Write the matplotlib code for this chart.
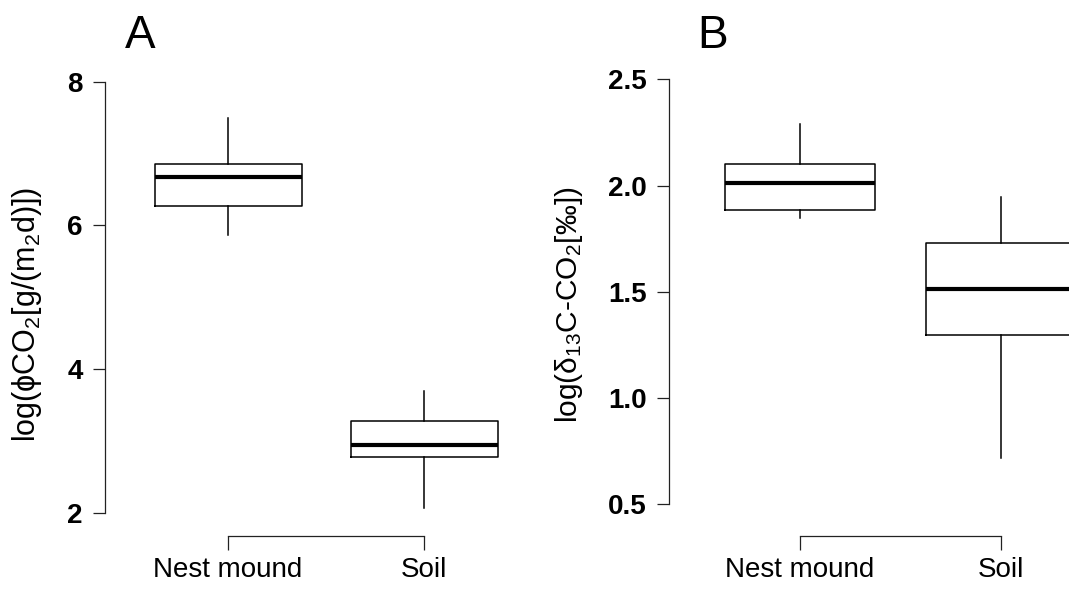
import matplotlib
matplotlib.use("Agg")
import matplotlib.pyplot as plt

plt.rcParams['font.family'] = ['Liberation Sans', 'DejaVu Sans']
plt.rcParams['mathtext.fontset'] = 'custom'
plt.rcParams['mathtext.rm'] = 'Liberation Sans'
plt.rcParams['mathtext.it'] = 'Liberation Sans:italic'
plt.rcParams['mathtext.sf'] = 'Liberation Sans'

# ---- data ----
groups = ['Nest mound', 'Soil']

a_whislo = [5.86, 2.07]
a_q1 = [6.27, 2.77]
a_med = [6.67, 2.94]
a_q3 = [6.85, 3.28]
a_whishi = [7.49, 3.69]
a_yticks = [2, 4, 6, 8]
a_yticklabels = ['2', '4', '6', '8']

b_whislo = [1.846, 0.716]
b_q1 = [1.886, 1.295]
b_med = [2.013, 1.512]
b_q3 = [2.10, 1.728]
b_whishi = [2.288, 1.946]
b_yticks = [0.5, 1.0, 1.5, 2.0, 2.5]
b_yticklabels = ['0.5', '1.0', '1.5', '2.0', '2.5']

W, H = 1069, 596
fig = plt.figure(figsize=(W / 100, H / 100), dpi=100)


def px_axes(left, right, top, bottom):
    return fig.add_axes([left / W, (H - bottom) / H, (right - left) / W, (bottom - top) / H])


def draw_panel(ax, whislo, q1, med, q3, whishi, yticks, yticklabels, xlim, ylim):
    stats = []
    for i, g in enumerate(groups):
        stats.append(dict(label=g, whislo=whislo[i], q1=q1[i], med=med[i],
                          q3=q3[i], whishi=whishi[i], fliers=[]))
    ax.bxp(stats, positions=[1, 2], widths=0.75, showfliers=False,
           boxprops=dict(color='black', linewidth=1.1),
           medianprops=dict(color='black', linewidth=3.0, solid_capstyle='butt'),
           whiskerprops=dict(color='black', linewidth=1.1),
           capprops=dict(linewidth=0), showcaps=False)
    ax.set_xlim(*xlim)
    ax.set_ylim(*ylim)
    for s in ['top', 'right']:
        ax.spines[s].set_visible(False)
    ax.spines['left'].set_bounds(yticks[0], yticks[-1])
    ax.spines['bottom'].set_bounds(1, 2)
    for s in ['left', 'bottom']:
        ax.spines[s].set_linewidth(0.9)
        ax.spines[s].set_color('#222222')
    ax.set_yticks(yticks)
    ax.set_yticklabels(yticklabels, fontsize=20, fontweight='bold')
    ax.set_xticks([1, 2])
    ax.set_xticklabels(groups, fontsize=20)
    ax.tick_params(axis='y', length=9, width=0.9, color='#222222', pad=7)
    ax.tick_params(axis='x', length=10, width=0.9, color='#222222', pad=5)
    ax.patch.set_visible(False)


axA = px_axes(105, 520, 70, 536)
draw_panel(axA, a_whislo, a_q1, a_med, a_q3, a_whishi, a_yticks, a_yticklabels,
           (0.372, 2.489), (1.675, 8.163))

axB = px_axes(669, 1069, 70, 536)
draw_panel(axB, b_whislo, b_q1, b_med, b_q3, b_whishi, b_yticks, b_yticklabels,
           (0.348, 2.338), (0.351, 2.544))

fig.text(27 / W, (H - 314) / H, r'log(ϕCO$_2$[g/(m$_2$d)])', rotation=90,
         ha='center', va='center', fontsize=22)
fig.text(569 / W, (H - 305) / H, r'log(δ$_{13}$C-CO$_2$[‰])', rotation=90,
         ha='center', va='center', fontsize=21.5)

fig.text(125 / W, (H - 48) / H, 'A', fontsize=33, ha='left', va='baseline')
fig.text(697 / W, (H - 48) / H, 'B', fontsize=33, ha='left', va='baseline')

fig.savefig('out.png', dpi=100)
